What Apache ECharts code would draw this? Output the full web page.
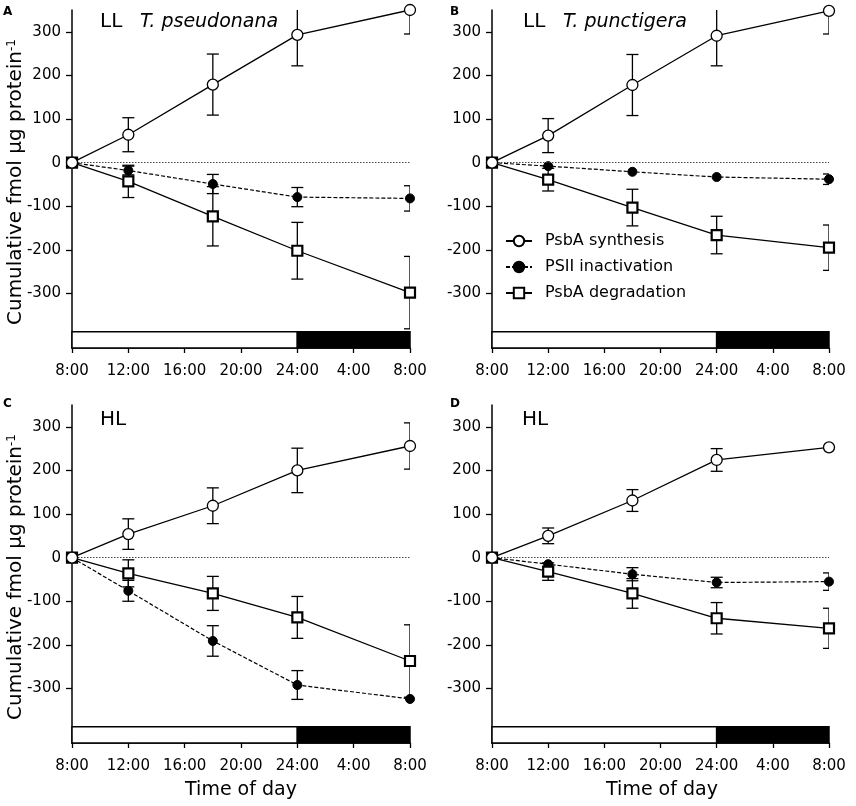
<!DOCTYPE html>
<html>
<head>
<meta charset="utf-8">
<script src="https://cdn.jsdelivr.net/npm/echarts@6/dist/echarts.min.js"></script>
<style>html,body{margin:0;padding:0;background:#fff}#c{width:856px;height:806px}</style>
</head>
<body>
<div id="c"></div>
<script>
// ---- data ----
const hours = [0, 4, 10, 16, 24];
const xTickLabels = ['8:00', '12:00', '16:00', '20:00', '24:00', '4:00', '8:00'];
const yTicks = [-300, -200, -100, 0, 100, 200, 300];
const seriesNames = ['PsbA synthesis', 'PSII inactivation', 'PsbA degradation'];
const lightDark = [[0, 16, 'light'], [16, 24, 'dark']];

// Panel A: LL T. pseudonana
const synA = [0, 64, 179, 293, 350];
const synAErr = [0, 39, 70, 71, 55];
const inaA = [0, -18, -49, -79, -82];
const inaAErr = [0, 10, 22, 22, 29];
const degA = [0, -43, -123, -202, -298];
const degAErr = [0, 37, 68, 65, 83];

// Panel B: LL T. punctigera
const synB = [0, 62, 178, 291, 348];
const synBErr = [0, 39, 70, 69, 53];
const inaB = [0, -8, -21, -33, -38];
const inaBErr = [0, 0, 0, 0, 12];
const degB = [0, -39, -103, -166, -195];
const degBErr = [0, 26, 42, 43, 52];

// Panel C: HL T. pseudonana
const synC = [0, 54, 119, 200, 256];
const synCErr = [0, 35, 41, 51, 53];
const inaC = [0, -76, -191, -292, -324];
const inaCErr = [0, 24, 35, 33, 0];
const degC = [0, -36, -82, -137, -237];
const degCErr = [0, 31, 39, 48, 83];

// Panel D: HL T. punctigera
const synD = [0, 50, 131, 224, 253];
const synDErr = [0, 18, 25, 26, 0];
const inaD = [0, -15, -38, -57, -55];
const inaDErr = [0, 0, 15, 12, 20];
const degD = [0, -32, -82, -139, -162];
const degDErr = [0, 20, 34, 36, 46];

const panels = [
  { letter: 'A', light: 'LL', species: 'T. pseudonana', syn: [synA, synAErr], ina: [inaA, inaAErr], deg: [degA, degAErr] },
  { letter: 'B', light: 'LL', species: 'T. punctigera', syn: [synB, synBErr], ina: [inaB, inaBErr], deg: [degB, degBErr] },
  { letter: 'C', light: 'HL', species: '', syn: [synC, synCErr], ina: [inaC, inaCErr], deg: [degC, degCErr] },
  { letter: 'D', light: 'HL', species: '', syn: [synD, synDErr], ina: [inaD, inaDErr], deg: [degD, degDErr] }
];

// ---- layout ----
const FONT = '"DejaVu Sans", Verdana, sans-serif';
const YMIN = -425, YMAX = 350, BAR_TOP = -388;
const grids = [
  { left: 72, top: 10, width: 338, height: 338 },
  { left: 492, top: 10, width: 337, height: 338 },
  { left: 72, top: 405, width: 338, height: 338 },
  { left: 492, top: 405, width: 337, height: 338 }
];

const chart = echarts.init(document.getElementById('c'), null, { renderer: 'canvas' });

const xAxes = [], yAxes = [], series = [];
grids.forEach((g, i) => {
  xAxes.push({
    type: 'value', gridIndex: i, min: 0, max: 24, interval: 4,
    axisLine: { onZero: false, lineStyle: { color: '#000', width: 1.5 } },
    axisTick: { length: 5, lineStyle: { color: '#000', width: 1.3 } },
    axisLabel: { margin: 16, fontSize: 15, color: '#000', fontFamily: FONT,
      formatter: v => xTickLabels[Math.round(v / 4)] },
    splitLine: { show: false }
  });
  yAxes.push({
    type: 'value', gridIndex: i, min: YMIN, max: YMAX,
    axisLine: { show: true, onZero: false, lineStyle: { color: '#000', width: 1.5 } },
    axisTick: { show: true, length: 6, customValues: yTicks, lineStyle: { color: '#000', width: 1.3 } },
    axisLabel: { margin: 11, fontSize: 15, color: '#000', fontFamily: FONT, customValues: yTicks },
    splitLine: { show: false }
  });
});

function errData(vals, errs) {
  return hours.map((h, k) => [h, vals[k] - errs[k], vals[k] + errs[k]]);
}
function errSeries(i, vals, errs) {
  return {
    type: 'custom', xAxisIndex: i, yAxisIndex: i, z: 1, clip: true, silent: true,
    data: errData(vals, errs),
    renderItem: function (params, api) {
      const x = api.value(0);
      if (api.value(1) === api.value(2)) return null;
      const lo = api.coord([x, api.value(1)]);
      const hi = api.coord([x, api.value(2)]);
      const cw = 6;
      const st = { stroke: '#000', lineWidth: 1.3 };
      return {
        type: 'group',
        children: [
          { type: 'line', shape: { x1: lo[0], y1: lo[1], x2: hi[0], y2: hi[1] }, style: st },
          { type: 'line', shape: { x1: lo[0] - cw, y1: lo[1], x2: lo[0] + cw, y2: lo[1] }, style: st },
          { type: 'line', shape: { x1: hi[0] - cw, y1: hi[1], x2: hi[0] + cw, y2: hi[1] }, style: st }
        ]
      };
    }
  };
}
function pts(vals) { return hours.map((h, k) => [h, vals[k]]); }

panels.forEach((p, i) => {
  series.push(errSeries(i, p.ina[0], p.ina[1]));
  series.push(errSeries(i, p.deg[0], p.deg[1]));
  series.push(errSeries(i, p.syn[0], p.syn[1]));
  series.push({
    name: seriesNames[1], type: 'line', xAxisIndex: i, yAxisIndex: i, z: 3,
    data: pts(p.ina[0]), symbol: 'circle', symbolSize: 9,
    itemStyle: { color: '#000', borderColor: '#000', borderWidth: 1 },
    lineStyle: { color: '#000', width: 1.2, type: [4, 2] },
    animation: false
  });
  series.push({
    name: seriesNames[2], type: 'line', xAxisIndex: i, yAxisIndex: i, z: 4,
    data: pts(p.deg[0]), symbol: 'rect', symbolSize: 10,
    itemStyle: { color: '#fff', borderColor: '#000', borderWidth: 2.2 },
    lineStyle: { color: '#000', width: 1.3 },
    animation: false
  });
  series.push({
    name: seriesNames[0], type: 'line', xAxisIndex: i, yAxisIndex: i, z: 5,
    data: pts(p.syn[0]), symbol: 'circle', symbolSize: 11,
    itemStyle: { color: '#fff', borderColor: '#000', borderWidth: 1.3 },
    lineStyle: { color: '#000', width: 1.3 },
    animation: false,
    markLine: {
      silent: true, symbol: 'none', label: { show: false }, animation: false,
      lineStyle: { color: '#444', width: 1, type: [1.5, 1.5] },
      data: [{ yAxis: 0 }]
    },
    markArea: {
      silent: true, animation: false,
      data: lightDark.map(s => [
        { xAxis: s[0], yAxis: YMIN, itemStyle: { color: s[2] === 'dark' ? '#000' : '#fff', borderColor: '#000', borderWidth: 1.5, opacity: 1 } },
        { xAxis: s[1], yAxis: BAR_TOP }
      ])
    }
  });
});

const yLabelRich = {
  m: { fontSize: 20, fontFamily: FONT, color: '#000' },
  s: { fontSize: 12, fontFamily: FONT, color: '#000', verticalAlign: 'top' }
};
const graphics = [];
const letterPos = [[3, 6], [450, 6], [3, 398], [450, 398]];
const titlePos = [[100, 22], [523, 22], [100, 420], [522, 420]];
panels.forEach((p, i) => {
  graphics.push({ type: 'text', left: letterPos[i][0], top: letterPos[i][1],
    style: { text: p.letter, font: 'bold 12px ' + FONT, fill: '#000' } });
  graphics.push({ type: 'text', x: titlePos[i][0], y: titlePos[i][1],
    style: { text: p.light, font: '20px ' + FONT, fill: '#000', verticalAlign: 'middle' } });
  if (p.species) {
    graphics.push({ type: 'text', x: titlePos[i][0] + 40, y: titlePos[i][1],
      style: { text: p.species, font: 'italic 19px ' + FONT, fill: '#000', verticalAlign: 'middle' } });
  }
});
[[16, 182], [16, 577]].forEach(pos => {
  graphics.push({ type: 'text', x: pos[0], y: pos[1], rotation: Math.PI / 2,
    style: { text: '{m|Cumulative fmol µg protein}{s|-1}', rich: yLabelRich, align: 'center', verticalAlign: 'middle' } });
});
[[241, 790], [662, 790]].forEach(pos => {
  graphics.push({ type: 'text', x: pos[0], y: pos[1],
    style: { text: 'Time of day', font: '19px ' + FONT, fill: '#000', align: 'center', verticalAlign: 'middle' } });
});

chart.setOption({
  animation: false,
  backgroundColor: '#fff',
  grid: grids.map(g => Object.assign({ containLabel: false }, g)),
  xAxis: xAxes,
  yAxis: yAxes,
  legend: {
    data: seriesNames, orient: 'vertical', left: 500, top: 227,
    itemWidth: 26, itemHeight: 13, itemGap: 8, selectedMode: false,
    textStyle: { fontSize: 16, fontFamily: FONT, color: '#000', padding: [0, 0, 0, 8], lineHeight: 18 }
  },
  graphic: graphics,
  series: series
});
</script>
</body>
</html>
